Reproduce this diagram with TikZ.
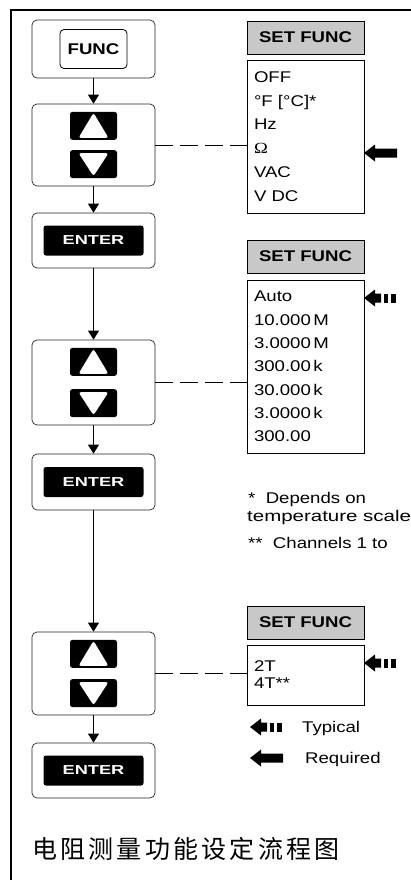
\documentclass[tikz,border=0pt]{standalone}
\usepackage{fontspec}
\setmainfont{Liberation Sans}[FakeStretch=1.2]
\newfontfamily\enterfont{Liberation Sans}[FakeStretch=1.4]
\newfontfamily\widefont{Liberation Sans}[FakeStretch=1.32]
\newfontfamily\omfont{Liberation Serif}[FakeStretch=1.2]
\newfontfamily\cjkfont{Noto Sans CJK SC}[LetterSpace=13]
\usetikzlibrary{arrows.meta,positioning}
\definecolor{headgray}{RGB}{200,200,200}

\begin{document}
\begin{tikzpicture}[x=1pt,y=-1pt]

  \tikzset{outer node/.style={rectangle, draw=black!85, line width=0.7pt,
  		rounded corners=5pt, minimum width=123pt}, }
  \tikzset{key node/.style={rectangle, fill=black, rounded corners=2.5pt,
  		minimum width=47pt, minimum height=28pt, inner sep=0pt}, }
  \tikzset{up key/.style={key node, path picture={\fill[white]
  		([xshift=-15pt,yshift=-12pt]path picture bounding box.center)
  		-- ++(30pt,0pt) -- ++(-15pt,25pt) -- cycle;}}, }
  \tikzset{down key/.style={key node, path picture={\fill[white]
  		([xshift=-15pt,yshift=11pt]path picture bounding box.center)
  		-- ++(30pt,0pt) -- ++(-15pt,-23pt) -- cycle;}}, }
  \tikzset{enter key/.style={rectangle, fill=black, rounded corners=2.5pt, text=white,
  		minimum width=100pt, minimum height=30pt, inner sep=0pt,
  		font=\enterfont\bfseries\fontsize{13}{13}\selectfont}, }
  \tikzset{func key/.style={rectangle, draw, line width=0.8pt, rounded corners=4pt,
  		minimum width=67pt, minimum height=39pt, inner sep=0pt,
  		font=\bfseries\fontsize{15.5}{15.5}\selectfont}, }
  \tikzset{head node/.style={rectangle, draw, line width=1pt, fill=headgray,
  		minimum width=117pt, minimum height=33pt, inner sep=0pt,
  		font=\bfseries\fontsize{15.5}{15.5}\selectfont}, }
  \tikzset{list node/.style={rectangle, draw, line width=0.9pt, align=left,
  		text width=103pt, inner xsep=7pt, inner ysep=0pt}, }
  \tikzset{note/.style={anchor=base west, inner sep=0pt,
  		font=\fontsize{15.5}{15.5}\selectfont}, }
  \tikzset{flow/.style={-{Triangle[width=11pt,length=9pt]}, line width=0.9pt}, }
  \tikzset{dash link/.style={dash pattern=on 18pt off 7pt, line width=0.8pt}, }
  \tikzset{req arrow/.pic={\fill (0,0) -- (11,-8.5) -- (11,-4.5) -- (33,-4.5)
  		-- (33,4.5) -- (11,4.5) -- (11,8.5) -- cycle;}, }
  \tikzset{typ arrow/.pic={\fill (0,0) -- (11,-8.5) -- (11,-4.5) -- (17,-4.5)
  		-- (17,4.5) -- (11,4.5) -- (11,8.5) -- cycle;
  		\fill (20,-4.5) rectangle (24,4.5); \fill (27,-4.5) rectangle (32,4.5);}, }

\useasboundingbox (0,0) rectangle (410,880);
\draw[line width=2pt] (412,10) -- (11,10) -- (11,882);

% left column
\node[outer node, minimum height=58pt] (f1) at (93.5,49) {};
\node[func key] (fk) at (f1.center) {FUNC};
\node[outer node, minimum height=82pt] (k1) at (93.5,145) {};
\node[up key] (u1) [below=8pt of k1.north] {};
\node[down key] (d1) [above=8pt of k1.south] {};
\node[outer node, minimum height=55pt] (e1) at (93.5,240.5) {};
\node[enter key] (n1) at (e1.center) {ENTER};
\node[outer node, minimum height=85pt] (k2) at (93.5,382.5) {};
\node[up key] (u2) [below=8pt of k2.north] {};
\node[down key] (d2) [above=8pt of k2.south] {};
\node[outer node, minimum height=56pt] (e2) at (93.5,482) {};
\node[enter key] (n2) at (e2.center) {ENTER};
\node[outer node, minimum height=83pt] (k3) at (93.5,673.5) {};
\node[up key] (u3) [below=8pt of k3.north] {};
\node[down key] (d3) [above=8pt of k3.south] {};
\node[outer node, minimum height=55pt] (e3) at (93.5,770.5) {};
\node[enter key] (n3) at (e3.center) {ENTER};

% right column
\node[list node, minimum height=153pt, font=\fontsize{15.5}{23.8}\selectfont] (l1) at (305.5,136.5)
  {OFF\\ °F [°C]*\\ Hz\\ {\omfont Ω}\\ VAC\\ V DC};
\node[head node] (h1) [above=5pt of l1] {SET FUNC};
\node[list node, minimum height=173pt, font=\fontsize{15.5}{23.3}\selectfont] (l2) at (305.5,366.5)
  {Auto\\ 10.000\,M\\ 3.0000\,M\\ 300.00\,k\\ 30.000\,k\\ 3.0000\,k\\ 300.00};
\node[head node] (h2) [above=6pt of l2] {SET FUNC};
\node[list node, minimum height=60pt, font=\fontsize{15.5}{17}\selectfont] (l3) at (305.5,675)
  {2T\\ 4T**};
\node[head node] (h3) [above=5pt of l3] {SET FUNC};

\pic at (364,153) {req arrow};
\pic at (364,298) {typ arrow};
\pic at (364,663) {typ arrow};

% notes
\node[note] (n*) at (248,503) {*\ \ Depends on};
\node[note, font=\widefont\fontsize{15.5}{15.5}\selectfont] (nt) at (247,521.5) {temperature scale};
\node[note] (n**) at (248,548) {**\ \ Channels 1 to};

% legend
\pic at (250,727) {typ arrow};
\node[note] (typ) at (302,732.5) {Typical};
\pic at (250,758) {req arrow};
\node[note] (req) at (305,763.5) {Required};

\node[anchor=base west, inner sep=0pt, font=\cjkfont\fontsize{25}{25}\selectfont] (title)
  at (32,858) {电阻测量功能设定流程图};

\foreach \x/\y in {f1/k1,k1/e1,e1/k2,k2/e2,e2/k3,k3/e3}
  \draw[flow] (\x) -- (\y);
\foreach \x/\y in {k1/l1,k2/l2,k3/l3}
  \draw[dash link] (\x.east) -- (\x.east -| \y.west);
%%
\end{tikzpicture}
\end{document}
